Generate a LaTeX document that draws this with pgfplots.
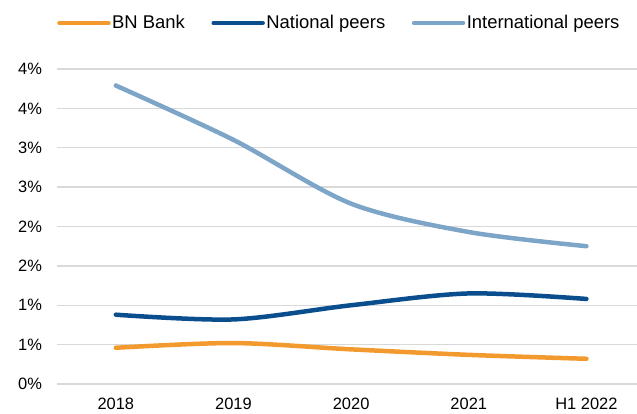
\documentclass[border=0pt]{standalone}
\usepackage{pgfplots}
\pgfplotsset{compat=1.18}
\usepackage{fontspec}
\setmainfont{Liberation Sans}
\definecolor{bnorange}{HTML}{F39A2E}
\definecolor{natblue}{HTML}{0B4E8E}
\definecolor{intblue}{HTML}{7DA5C8}
\definecolor{gridgray}{HTML}{D9D9D9}

\begin{document}
\begin{tikzpicture}
\useasboundingbox (-57bp,-30bp) rectangle (580bp,384bp);
\begin{axis}[
    at={(0,0)}, anchor=south west,
    scale only axis,
    width=580bp, height=315bp,
    xmin=-0.5, xmax=4.43,
    ymin=0, ymax=4,
    xtick={0,1,2,3,4},
    xticklabels={2018,2019,2020,2021,H1 2022},
    ytick={0,0.5,1,1.5,2,2.5,3,3.5,4},
    yticklabels={0\%,1\%,1\%,2\%,2\%,3\%,3\%,4\%,4\%},
    ymajorgrids,
    grid style={gridgray, line width=1.3bp},
    axis line style={draw=none},
    major tick length=0pt,
    tick label style={font=\fontsize{16.5}{18}\selectfont, text=black},
    yticklabel style={xshift=-11.5bp},
    xticklabel style={yshift=-11bp},
    clip=false,
    legend columns=3,
    legend style={draw=none, fill=none, at={(0bp,361bp)}, anchor=west,
        font=\fontsize{18.5}{20}\selectfont, inner sep=0pt,
        nodes={inner sep=1.5bp},
        /tikz/every even column/.append style={column sep=25bp}},
    legend image code/.code={\draw[#1, line cap=round] (2bp,0bp) -- (51bp,0bp);},
    every axis plot/.append style={line width=4.5bp, line cap=round, smooth, mark=none},
]
\addplot[bnorange] coordinates {(0,0.46)(1,0.52)(2,0.44)(3,0.37)(4,0.32)};
\addlegendentry{BN Bank}
\addplot[natblue] coordinates {(0,0.88)(1,0.82)(2,1.00)(3,1.15)(4,1.08)};
\addlegendentry{National peers}
\addplot[intblue] coordinates {(0,3.79)(1,3.10)(2,2.29)(3,1.93)(4,1.75)};
\addlegendentry{International peers}
\end{axis}
\end{tikzpicture}
\end{document}
